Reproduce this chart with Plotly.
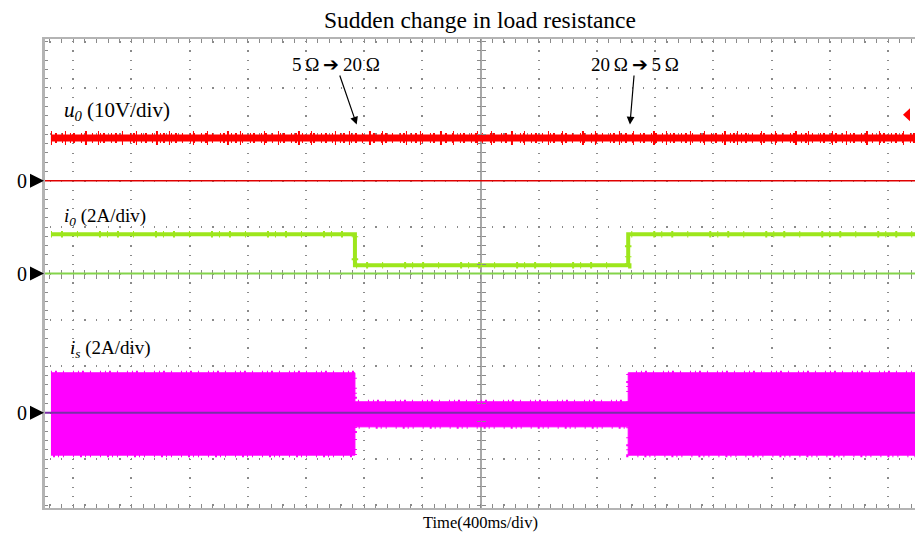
import plotly.graph_objects as go

# ---------------- data ----------------
# time in ms, relative to the centre of the screen (400 ms/div)
t_view = [-2994, 2985]
seg_edges = [-2953, -864, 1014, 2985]      # start, 5Ω→20Ω, 20Ω→5Ω, end

u0_level = [9.2, 9.2, 9.2]                 # V   (10 V/div)
i0_level = [1.69, 0.36, 1.69]              # A   (2 A/div)
is_upper = [1.72, 0.47, 1.72]              # A   (2 A/div) envelope top
is_lower = [-1.83, -0.61, -1.83]           # A   envelope bottom
trigger_level = 14.2                       # V   trigger marker on u0

arrow_tip_t = [-852, 1026]                 # ms
arrow_tip_v = 12.1                         # V on u0 scale
event_labels = ["5\u2009Ω\u2009➔\u200920\u2009Ω", "20\u2009Ω\u2009➔\u20095\u2009Ω"]

# ---------------- screen geometry ----------------
V_PER_DIV, A_PER_DIV = 10, 2
half_div = 5.054
zero_div = {"u0": 2, "i0": 0, "is": -3}


def rng(zero, per_div):
    return [(-half_div - zero) * per_div, (half_div - zero) * per_div]


GRID = "#8a8a8a"
FRAME = "#b4b4b4"
FONT = "Liberation Serif"

# build the step / envelope series from the segment arrays
step_x = list(seg_edges)
u0_y = u0_level + [u0_level[-1]]
i0_y = i0_level + [i0_level[-1]]

env_x, env_y = [], []
for k in range(len(is_upper)):
    env_x += [seg_edges[k], seg_edges[k + 1]]
    env_y += [is_upper[k], is_upper[k]]
for k in reversed(range(len(is_lower))):
    env_x += [seg_edges[k + 1], seg_edges[k]]
    env_y += [is_lower[k], is_lower[k]]

fig = go.Figure()

# is : switching current envelope (magenta)
fig.add_trace(go.Scatter(x=env_x, y=env_y, yaxis="y3", mode="lines",
                         fill="toself", fillcolor="#ff00ff",
                         line=dict(color="#ff00ff", width=1), hoverinfo="skip"))
fig.add_trace(go.Scatter(x=env_x, y=env_y, yaxis="y3", mode="lines",
                         line=dict(color="#ff00ff", width=4,
                                   dash="1px,3px,2px,6px,1px,9px,1px,4px"),
                         hoverinfo="skip"))

# io : output current (lime)
fig.add_trace(go.Scatter(x=step_x, y=i0_y, yaxis="y2", mode="lines",
                         line=dict(color="#9de61c", width=4, shape="hv"),
                         hoverinfo="skip"))
fig.add_trace(go.Scatter(x=step_x, y=i0_y, yaxis="y2", mode="lines",
                         line=dict(color="#9de61c", width=6.5, shape="hv",
                                   dash="1px,9px,2px,14px,1px,21px,2px,6px"),
                         hoverinfo="skip"))

# uo : output voltage (red, noisy)
fig.add_trace(go.Scatter(x=step_x, y=u0_y, yaxis="y", mode="lines",
                         line=dict(color="#ff0000", width=7, shape="hv"),
                         hoverinfo="skip"))
fig.add_trace(go.Scatter(x=step_x, y=u0_y, yaxis="y", mode="lines",
                         line=dict(color="#ff0000", width=10, shape="hv",
                                   dash="1px,3px,2px,5px,1px,7px,1px,2px,2px,6px"),
                         hoverinfo="skip"))
fig.add_trace(go.Scatter(x=step_x, y=u0_y, yaxis="y", mode="lines",
                         line=dict(color="#ff0000", width=14, shape="hv",
                                   dash="1px,13px,1px,19px,2px,11px,1px,23px"),
                         hoverinfo="skip"))

# empty traces so the centre-cross tick axes are created
for xa, ya in [("x", "y4"), ("x", "y5"), ("x2", "y2"), ("x3", "y2")]:
    fig.add_trace(go.Scatter(x=[], y=[], xaxis=xa, yaxis=ya, hoverinfo="skip"))

common_hidden = dict(showgrid=False, zeroline=False, showticklabels=False,
                     showline=False)

fig.update_layout(
    width=915, height=537, autosize=False,
    margin=dict(l=45, r=0, t=39, b=29),
    paper_bgcolor="white", plot_bgcolor="white",
    showlegend=False,
    font=dict(family=FONT, color="black"),
    title=dict(text="Sudden change in load resistance", x=0.5, xref="paper",
               xanchor="center", y=1 - 20 / 537, yref="container",
               yanchor="middle", font=dict(size=23.5, family=FONT, color="black")),
    xaxis=dict(range=t_view, dtick=400, tick0=0, showgrid=True,
               gridcolor=GRID, gridwidth=1.5, griddash="0px,2.2px,1.2px,5.88px",
               zeroline=True, zerolinecolor="#a8a8a8", zerolinewidth=2,
               showline=True, linecolor=FRAME, linewidth=2, mirror="ticks",
               ticks="inside", ticklen=4, tickcolor=GRID, tickwidth=1,
               showticklabels=False,
               minor=dict(dtick=80, ticks="inside", ticklen=4, tickcolor=GRID,
                          showgrid=False)),
    xaxis2=dict(range=t_view, overlaying="x", anchor="free", position=0.5,
                dtick=80, tick0=0, ticks="outside", ticklen=4, tickcolor=GRID,
                **common_hidden),
    xaxis3=dict(range=t_view, overlaying="x", anchor="free", position=0.5,
                dtick=80, tick0=0, ticks="inside", ticklen=4, tickcolor=GRID,
                **common_hidden),
    yaxis=dict(range=rng(zero_div["u0"], V_PER_DIV), visible=False),
    yaxis2=dict(range=rng(zero_div["i0"], A_PER_DIV), overlaying="y",
                dtick=A_PER_DIV, tick0=0, showgrid=True, gridcolor=GRID,
                gridwidth=1.5, griddash="0px,4.5px,1.2px,5.94px",
                zeroline=False, showline=True, linecolor=FRAME, linewidth=2.5,
                ticks="inside", ticklen=3, tickcolor=GRID,
                showticklabels=False,
                minor=dict(dtick=A_PER_DIV / 5, ticks="inside", ticklen=3,
                           tickcolor=GRID, showgrid=False)),
    yaxis3=dict(range=rng(zero_div["is"], A_PER_DIV), overlaying="y",
                visible=False),
    yaxis4=dict(range=rng(zero_div["i0"], A_PER_DIV), overlaying="y",
                anchor="free", position=(480.7 - 45) / 870,
                dtick=A_PER_DIV / 5, tick0=0, ticks="outside", ticklen=4,
                tickcolor=GRID, **common_hidden),
    yaxis5=dict(range=rng(zero_div["i0"], A_PER_DIV), overlaying="y",
                anchor="free", position=(480.7 - 45) / 870,
                dtick=A_PER_DIV / 5, tick0=0, ticks="inside", ticklen=4,
                tickcolor=GRID, **common_hidden),
)

# zero-level lines of the three channels (drawn above the traces)
for yref, col, w in [("y", "#e00000", 1.5), ("y2", "#84d44a", 2),
                     ("y3", "#7a2fa8", 2)]:
    fig.add_shape(type="line", xref="paper", x0=0, x1=1, yref=yref, y0=0, y1=0,
                  line=dict(color=col, width=w), layer="above")
    # black channel-zero marker ▶ and its "0"
    fig.add_shape(type="path", xref="paper", xsizemode="pixel", xanchor=0,
                  yref=yref, ysizemode="pixel", yanchor=0,
                  path="M-15,-7 L-1,0 L-15,7 Z", fillcolor="black",
                  line=dict(width=0), layer="above")
    fig.add_annotation(text="0", xref="paper", x=(22 - 45) / 870, yref=yref,
                       y=0, xanchor="center", yanchor="middle",
                       showarrow=False, font=dict(size=20, family=FONT))

# red trigger marker ◀ at the right edge
fig.add_shape(type="path", xref="paper", xsizemode="pixel", xanchor=1,
              yref="y", ysizemode="pixel", yanchor=trigger_level,
              path="M-12,0 L-5,-6.5 L-5,6.5 Z", fillcolor="#ff0000",
              line=dict(width=0), layer="above")

# channel labels
labels = [("<i>u</i><sub><i>0</i></sub> (10V/div)", 62, 111, 21),
          ("<i>i</i><sub><i>0</i></sub> (2A/div)", 62, 217, 19),
          ("<i>i</i><sub><i>s</i></sub> (2A/div)", 68, 349, 19)]
for txt, px, py, fs in labels:
    fig.add_annotation(text=txt, xref="paper", x=(px - 45) / 870,
                       yref="paper", y=(508 - py) / 469, xanchor="left",
                       yanchor="middle", showarrow=False,
                       font=dict(size=fs, family=FONT))

# event labels, each with its arrow pointing at the switching instant
for txt, tip, dx in zip(event_labels, arrow_tip_t, [-20.7, 5]):
    fig.add_annotation(text=txt, x=tip, y=arrow_tip_v, xref="x", yref="y",
                       showarrow=True, ax=dx, ay=-60, arrowhead=2,
                       arrowsize=1.3, arrowwidth=1.2, arrowcolor="black",
                       standoff=0, startstandoff=0, borderpad=0,
                       font=dict(size=19, family=FONT))

fig.add_annotation(text="Time(400ms/div)", xref="paper", x=0.5, yref="paper",
                   y=(508 - 522) / 469, xanchor="center", yanchor="middle",
                   showarrow=False, font=dict(size=16.5, family=FONT))

fig.write_html("out.html", config={"displayModeBar": False},
               post_script="document.body.style.margin='0px';"
                           "document.body.style.overflow='hidden';")
